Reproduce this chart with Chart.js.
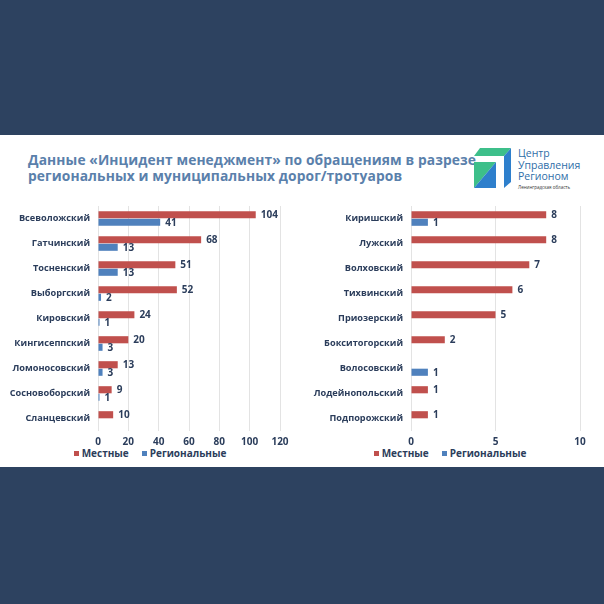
<!DOCTYPE html>
<html lang="ru">
<head>
<meta charset="utf-8">
<script src="https://cdn.jsdelivr.net/npm/chart.js@4"></script>
<style>
  html, body { margin: 0; padding: 0; }
  body { width: 604px; height: 604px; background: #2d4260; position: relative; overflow: hidden;
         font-family: "Open Sans", sans-serif; }
  .sheet { position: absolute; left: 0; top: 135px; width: 604px; height: 332px; background: #fff; }
  .title { position: absolute; left: 28px; top: 152px; font-weight: 700; font-size: 13.8px;
           line-height: 16px; color: #5a80ab; letter-spacing: 0.1px; }
  .logo { position: absolute; left: 474px; top: 148px; }
  .logo-text { position: absolute; left: 518px; top: 148px; color: #2f6ea8; font-size: 10.5px; line-height: 11.5px; }
  .logo-text small { display: block; font-size: 4.5px; line-height: 8px; color: #333; }
  .box { position: absolute; top: 194px; width: 300px; height: 252px; }
  .legend { position: absolute; top: 446px; width: 300px; height: 14px; display: flex; justify-content: center;
            align-items: center; gap: 13px; font-weight: 700; font-size: 10px; color: #2b3d5b; }
  .legend span i { display: inline-block; width: 5px; height: 5px; margin-right: 3px; vertical-align: 1px; }
</style>
</head>
<body>
<div class="sheet"></div>
<div class="title">Данные «Инцидент менеджмент» по обращениям в разрезе<br>региональных и муниципальных дорог/тротуаров</div>
<svg class="logo" width="40" height="42" viewBox="0 0 40 42">
  <polygon points="6,0 37,0 30,8 0,8" fill="#3dbf8a"/>
  <polygon points="30,8 37,0 37,34 30,40" fill="#2e7fcc"/>
  <polygon points="0,14 22,14 0,40" fill="#3dbf8a"/>
  <polygon points="22,14 22,40 0,40" fill="#2e7fcc"/>
</svg>
<div class="logo-text">Центр<br>Управления<br>Регионом<small>Ленинградская область</small></div>
<div class="box" style="left:0"><canvas id="leftChart"></canvas></div>
<div class="box" style="left:300px"><canvas id="rightChart"></canvas></div>
<div class="legend" id="leftLegend" style="left:0"></div>
<div class="legend" id="rightLegend" style="left:300px"></div>
<script>
// --- данные ---
const leftDistricts = ['Всеволожский', 'Гатчинский', 'Тосненский', 'Выборгский', 'Кировский',
  'Кингисеппский', 'Ломоносовский', 'Сосновоборский', 'Сланцевский'];
const leftLocal = [104, 68, 51, 52, 24, 20, 13, 9, 10];
const leftRegional = [41, 13, 13, 2, 1, 3, 3, 1, 0];
const leftTicks = [0, 20, 40, 60, 80, 100, 120];

const rightDistricts = ['Киришский', 'Лужский', 'Волховский', 'Тихвинский', 'Приозерский',
  'Бокситогорский', 'Волосовский', 'Лодейнопольский', 'Подпорожский'];
const rightLocal = [8, 8, 7, 6, 5, 2, 0, 1, 1];
const rightRegional = [1, 0, 0, 0, 0, 0, 1, 0, 0];
const rightTicks = [0, 5, 10];

const seriesNames = ['Местные', 'Региональные'];
const RED = '#c0504d';
const BLUE = '#4f81bd';
const TEXT = '#2b3d5b';

// подписи значений справа от столбцов
const valueLabels = {
  id: 'valueLabels',
  afterDatasetsDraw(chart) {
    const ctx = chart.ctx;
    ctx.save();
    ctx.font = 'bold 10px "Open Sans"';
    ctx.fillStyle = TEXT;
    ctx.textBaseline = 'middle';
    chart.data.datasets.forEach((ds, i) => {
      chart.getDatasetMeta(i).data.forEach((bar, j) => {
        const v = ds.data[j];
        if (!v) return;
        ctx.fillText(String(v), bar.x + 5, bar.y + 0.5);
      });
    });
    ctx.restore();
  }
};

// легенда под графиком (HTML)
function buildLegend(id, chart) {
  document.getElementById(id).innerHTML = chart.data.datasets.map(ds =>
    `<span><i style="background:${ds.backgroundColor}"></i>${ds.label}</span>`
  ).join('');
}

function makeChart(id, labels, local, regional, ticks, axisLeft) {
  return new Chart(document.getElementById(id), {
    type: 'bar',
    data: {
      labels: labels,
      datasets: [
        { label: seriesNames[0], data: local, backgroundColor: RED },
        { label: seriesNames[1], data: regional, backgroundColor: BLUE }
      ]
    },
    options: {
      indexAxis: 'y',
      responsive: true,
      maintainAspectRatio: false,
      animation: false,
      categoryPercentage: 0.6,
      barPercentage: 0.95,
      layout: { padding: { top: 12, right: 20, left: 0, bottom: 0 } },
      scales: {
        x: {
          min: ticks[0],
          max: ticks[ticks.length - 1],
          afterBuildTicks: (scale) => { scale.ticks = ticks.map(v => ({ value: v })); },
          afterFit: (scale) => { scale.height = 15; },
          grid: { color: '#e3e3e3', drawTicks: false },
          border: { display: false },
          ticks: { color: TEXT, font: { family: 'Open Sans', weight: 'bold', size: 10 }, padding: 5 }
        },
        y: {
          grid: { display: false },
          border: { display: false },
          afterFit: (scale) => { scale.width = axisLeft; },
          ticks: { color: TEXT, font: { family: 'Open Sans', weight: 'bold', size: 9.2 }, padding: 0 }
        }
      },
      plugins: {
        legend: { display: false },
        tooltip: { enabled: false }
      }
    },
    plugins: [valueLabels]
  });
}

const leftChart = makeChart('leftChart', leftDistricts, leftLocal, leftRegional, leftTicks, 98);
const rightChart = makeChart('rightChart', rightDistricts, rightLocal, rightRegional, rightTicks, 111);
buildLegend('leftLegend', leftChart);
buildLegend('rightLegend', rightChart);
</script>
</body>
</html>
